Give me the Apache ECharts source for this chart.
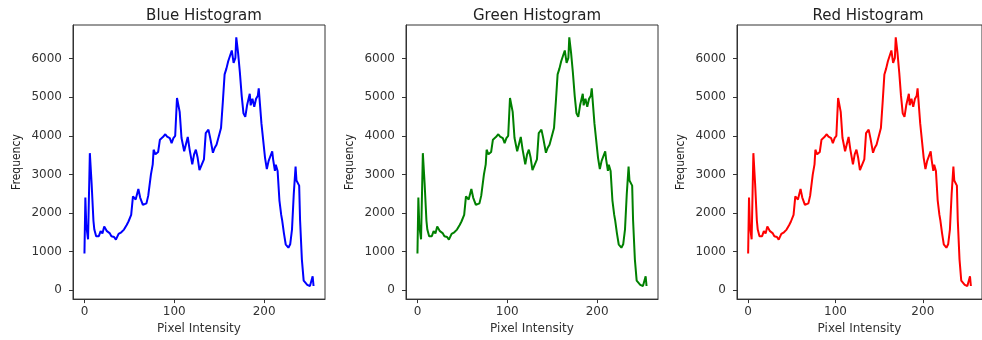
<!DOCTYPE html>
<html>
<head>
<meta charset="utf-8">
<script src="https://cdn.jsdelivr.net/npm/echarts@6/dist/echarts.min.js"></script>
<style>
  html, body { margin: 0; padding: 0; background: #fff; }
  #chart { width: 982px; height: 340px; }
</style>
</head>
<body>
<div id="chart"></div>
<script>
// pixel intensity (x) and its frequency (y)
// all three channels show the same curve
var intensity = [0, 1, 2, 3, 4, 6, 8, 10, 11, 13, 16, 18, 20, 22, 25, 28, 30, 33, 35, 38,
	41, 44, 47, 49, 52, 54, 57, 60, 62, 65, 69, 71, 74, 76, 77, 79, 82, 84, 87, 90,
	92, 95, 97, 99, 101, 103, 106, 108, 111, 115, 117, 120, 122, 124, 126, 128, 130, 133, 135, 138,
	140, 143, 145, 147, 150, 152, 154, 156, 158, 160, 162, 164, 166, 168, 169, 171, 173, 175, 177, 179,
	181, 182, 184, 185, 187, 189, 191, 193, 194, 196, 197, 199, 201, 203, 205, 207, 209, 210, 212, 213,
	215, 217, 219, 220, 222, 224, 227, 229, 231, 233, 235, 236, 239, 240, 242, 244, 246, 248, 251, 253,
	254, 255];
var frequency = [950, 2400, 1700, 1500, 1320, 3550, 2750, 1800, 1570, 1400, 1400, 1530, 1470, 1650, 1530, 1480, 1400, 1380, 1310, 1460,
	1500, 1570, 1690, 1780, 1950, 2430, 2350, 2620, 2400, 2210, 2250, 2450, 3000, 3260, 3640, 3520, 3580, 3900, 3960, 4040,
	3980, 3940, 3810, 3940, 4000, 4980, 4620, 3950, 3600, 3970, 3650, 3260, 3520, 3640, 3430, 3110, 3110, 3390, 4070, 4160,
	3940, 3560, 3690, 3770, 4030, 4200, 4870, 5590, 5740, 5930, 5960, 6210, 5890, 6020, 6550, 6150, 5640, 5040, 4580, 4490,
	4790, 4830, 5090, 4790, 4960, 4750, 4960, 5040, 5230, 5260, 4320, 4280, 3430, 3140, 3350, 3390, 3600, 3390, 3090, 3250,
	3090, 2330, 1950, 1820, 1480, 1190, 1100, 1190, 1570, 2500, 3200, 2840, 2710, 1820, 800, 250, 210, 140, 110, 110,
	360, 110];

var channels = ['Blue', 'Green', 'Red'];
var colors = ['#0000ff', '#008000', '#ff0000'];
var gridLefts = [73, 406, 737];

var xTicks = [0, 100, 200];
var yTicks = [0, 1000, 2000, 3000, 4000, 5000, 6000];

var chart = echarts.init(document.getElementById('chart'));

var pts = intensity.map((v, i) => [v, frequency[i]]);
var txt = '#333';
var frame = { color: '#333', width: 1 };

var grids = [], xAxes = [], yAxes = [], titles = [], series = [];

channels.forEach((ch, i) => {
	grids.push({
		left: gridLefts[i], top: 25, width: 252, height: 279,
		show: true, borderColor: '#333', borderWidth: 1, backgroundColor: 'transparent'
	});
	titles.push({
		text: ch + ' Histogram',
		left: gridLefts[i] + 126, top: 4, textAlign: 'center',
		textStyle: { fontFamily: 'DejaVu Sans', fontSize: 15, fontWeight: 'normal', color: '#222' }
	});
	xAxes.push({
		type: 'value', gridIndex: i, min: -12.75, max: 267.75,
		name: 'Pixel Intensity', nameLocation: 'middle', nameGap: 22,
		nameTextStyle: { fontFamily: 'DejaVu Sans', fontSize: 12, color: txt },
		axisLine: { show: true, onZero: false, lineStyle: frame },
		axisTick: { show: true, inside: false, length: 4, customValues: xTicks, lineStyle: frame },
		axisLabel: { customValues: xTicks, margin: 7, fontFamily: 'DejaVu Sans', fontSize: 12, color: txt,
			formatter: v => String(v) },
		splitLine: { show: false }
	});
	yAxes.push({
		type: 'value', gridIndex: i, min: -230, max: 6870,
		name: 'Frequency', nameLocation: 'middle', nameGap: 50,
		nameTextStyle: { fontFamily: "'DejaVu Sans Condensed', 'Liberation Sans Narrow', sans-serif", fontSize: 12, color: '#222' },
		axisLine: { show: true, onZero: false, lineStyle: frame },
		axisTick: { show: true, inside: false, length: 4, customValues: yTicks, lineStyle: frame },
		axisLabel: { customValues: yTicks, margin: 11, fontFamily: 'DejaVu Sans', fontSize: 12, color: txt,
			formatter: v => String(v) },
		splitLine: { show: false }
	});
	series.push({
		type: 'line', xAxisIndex: i, yAxisIndex: i,
		data: pts, showSymbol: false, symbol: 'none',
		lineStyle: { color: colors[i], width: 2 }
	});
});

chart.setOption({
	animation: false,
	title: titles,
	grid: grids,
	xAxis: xAxes,
	yAxis: yAxes,
	series: series
});
</script>
</body>
</html>
